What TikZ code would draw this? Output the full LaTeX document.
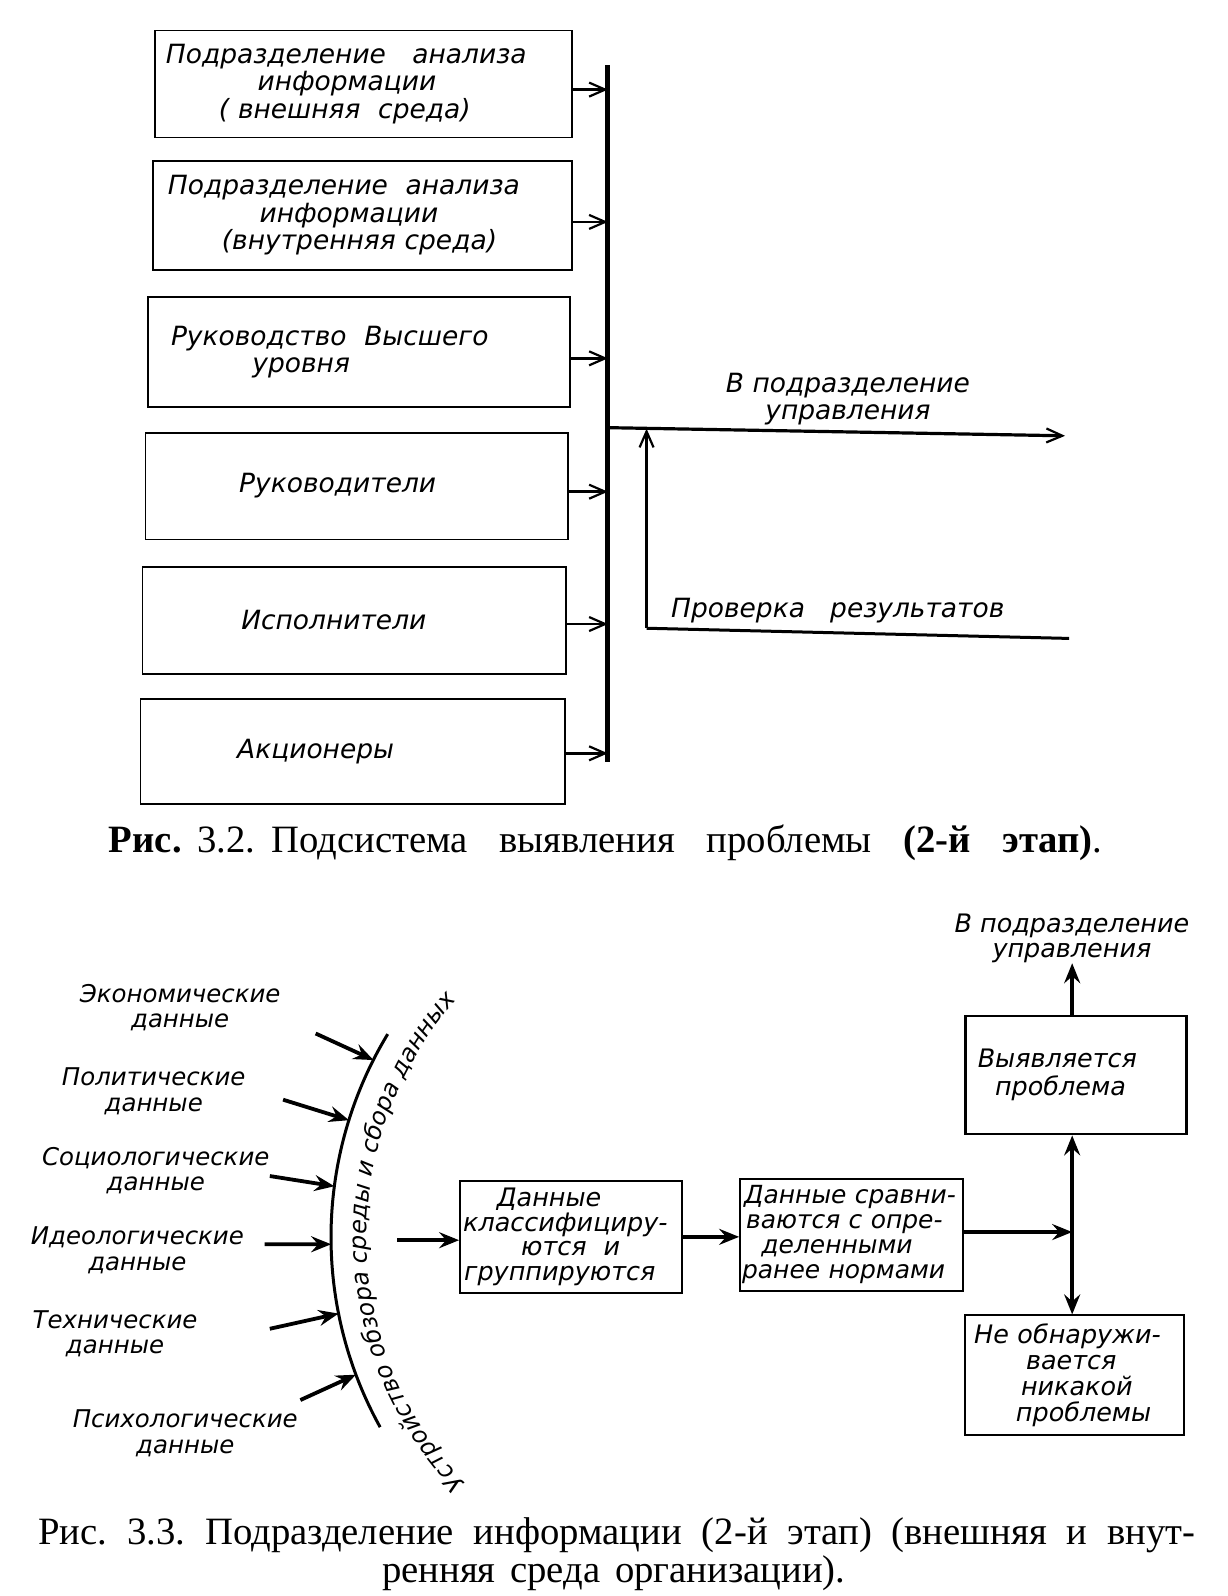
\documentclass[tikz,border=0pt]{standalone}
\usepackage{fontspec}
\setmainfont{Liberation Serif}
\newfontfamily\hand{DejaVu Sans}
\usetikzlibrary{arrows.meta,decorations.text,calc}
\frenchspacing
\tikzset{
  hw/.style={font=\hand\itshape\fontsize{26}{27}\selectfont, inner sep=0pt},
  hwl/.style={font=\hand\itshape\fontsize{24}{25}\selectfont, inner sep=0pt, align=center},
  box/.style={draw, line width=1.8pt, inner sep=0pt, align=left, font=\hand\itshape\fontsize{26}{27}\selectfont},
  boxb/.style={draw, line width=2.2pt, inner sep=0pt, align=left, font=\hand\itshape\fontsize{25}{24.5}\selectfont},
  capt/.style={font=\fontsize{38}{40}\selectfont, inner sep=0pt},
  tarr/.style={line width=2.6pt, -{Straight Barb[length=16pt,width=14pt,line width=2.2pt]}},
  barline/.style={line width=5pt},
  plainline/.style={line width=3pt},
  barr/.style={line width=3.8pt, -{Stealth[length=20pt,width=16pt,inset=7pt]}},
  barr2/.style={line width=4.2pt, {Stealth[length=20pt,width=16pt,inset=7pt]}-{Stealth[length=20pt,width=16pt,inset=7pt]}},
  arcline/.style={line width=3pt},
}
\begin{document}
\begin{tikzpicture}[x=1pt,y=-1pt,scale=1.018,transform shape]
\fill[white] (0,0) rectangle (1206.3,1567.8);
\useasboundingbox (0,0) rectangle (1206.3,1567.8);

% ---------- Fig. 3.2 ----------
\node[box, text width=410pt, minimum height=105pt] (b1) at (357,82.5)
  {\hspace*{11pt}Подразделение\quad анализа\\\hspace*{101pt}информации\\\hspace*{63pt}( внешняя\ \ среда)};
\node[box, text width=412pt, minimum height=107pt] (b2) at (356,211.5)
  {\hspace*{15pt}Подразделение\ \ анализа\\\hspace*{105pt}информации\\\hspace*{68pt}(внутренняя\ среда)};
\node[box, text width=415pt, minimum height=108pt] (b3) at (352.5,346)
  {\hspace*{23pt}Руководство\ \ Высшего\\\hspace*{103pt}уровня};
\node[box, text width=415pt, minimum height=105pt] (b4) at (350.5,477.5)
  {\hspace*{92pt}Руководители};
\node[box, text width=416pt, minimum height=105pt] (b5) at (348,609.5)
  {\hspace*{97pt}Исполнители};
\node[box, text width=417pt, minimum height=103pt] (b6) at (346.5,738.5)
  {\hspace*{95pt}Акционеры};

\coordinate (bartop) at (597,64);
\coordinate (barbot) at (597,748);
\draw[barline] (bartop) -- (barbot);

\draw[tarr] (b1.east |- 0,88)  -- (bartop |- 0,88);
\draw[tarr] (b2.east |- 0,218) -- (bartop |- 0,218);
\draw[tarr] (b3.east |- 0,352) -- (bartop |- 0,352);
\draw[tarr] (b4.east |- 0,483) -- (bartop |- 0,483);
\draw[tarr] (b5.east |- 0,613) -- (bartop |- 0,613);
\draw[tarr] (b6.east |- 0,740) -- (bartop |- 0,740);

\coordinate (outstart) at (597,420);
\coordinate (outend) at (1046,428);
\draw[tarr, line width=3.2pt] (outstart) -- (outend);
\node[hw, align=center] (lblout) at (833,392) {В подразделение\\управления};

\coordinate (fb) at (635,617);
\coordinate (fbtop) at (635,421);
\coordinate (fbend) at (1050,627);
\draw[tarr, line width=3.2pt] (fb) -- (fbtop);
\draw[plainline] (fb) -- (fbend);
\node[hw] (lblfb) at (823,600) {Проверка\ \ \ результатов};

\node[capt] (cap1) at (595,828)
  {\makebox[976pt][s]{\textbf{Рис.} 3.2. Подсистема\ \ выявления\ \ проблемы\ \ \textbf{(2-й\ \ этап)}.}};

% ---------- Fig. 3.3 ----------
\coordinate (ctr) at (710,1215);
\draw[arcline] ($(ctr)+(211.2:385)$) arc (211.2:151:385);
\path[decorate, decoration={text along path, text align=center,
   text={|\hand\itshape\fontsize{24}{24}\selectfont|Устройство обзора среды и сбора данных}}]
   ($(ctr)+(132:350)$) arc (132:226:350);

\node[hwl] (l1) at (177,990)  {Экономические\\данные};
\node[hwl] (l2) at (151,1072) {Политические\\данные};
\node[hwl] (l3) at (153,1150) {Социологические\\данные};
\node[hwl] (l4) at (135,1228) {Идеологические\\данные};
\node[hwl] (l5) at (113,1310) {Технические\\данные};
\node[hwl] (l6) at (182,1408) {Психологические\\данные};

\coordinate (p1) at ($(ctr)+(206.9:385)$);
\coordinate (p2) at ($(ctr)+(197.4:385)$);
\coordinate (p3) at ($(ctr)+(187.5:385)$);
\coordinate (p4) at ($(ctr)+(179.0:385)$);
\coordinate (p5) at ($(ctr)+(168.8:385)$);
\coordinate (p6) at ($(ctr)+(159.5:385)$);
\coordinate (s1) at (310,1015);
\coordinate (s2) at (278,1080);
\coordinate (s3) at (265,1155);
\coordinate (s4) at (260,1222);
\coordinate (s5) at (265,1305);
\coordinate (s6) at (295,1375);
\draw[barr] (s1) -- (p1);
\draw[barr] (s2) -- (p2);
\draw[barr] (s3) -- (p3);
\draw[barr] (s4) -- (p4);
\draw[barr] (s5) -- (p5);
\draw[barr] (s6) -- (p6);

\node[boxb, text width=218pt, minimum height=110pt] (c1) at (561,1215)
  {\hspace*{36pt}Данные\\\hspace*{3pt}классифициру-\\\hspace*{60pt}ются\ \ и\\\hspace*{4pt}группируются};
\node[boxb, text width=219pt, minimum height=110pt, font=\hand\itshape\fontsize{24.5}{24.5}\selectfont] (c2) at (836.5,1213)
  {\hspace*{4pt}Данные сравни-\\\hspace*{6pt}ваются с опре-\\\hspace*{21pt}деленными\\\hspace*{2pt}ранее нормами};
\node[boxb, text width=217pt, minimum height=116pt, font=\hand\itshape\fontsize{25}{28}\selectfont] (c3) at (1057,1056)
  {\hspace*{12pt}Выявляется\\\hspace*{29pt}проблема};
\node[boxb, text width=215pt, minimum height=118pt, font=\hand\itshape\fontsize{25}{25.5}\selectfont] (c4) at (1055.5,1351)
  {\hspace*{9pt}Не обнаружи-\\\hspace*{60pt}вается\\\hspace*{55pt}никакой\\\hspace*{50pt}проблемы};

\coordinate (in) at (390,1218);
\draw[barr] (in) -- (in -| c1.west);
\draw[barr] (c1.east |- 0,1215) -- (c2.west |- 0,1215);
\coordinate (jn) at (1053,1210);
\draw[barr] (c2.east |- jn) -- (jn);
\draw[barr2] (c3.south -| jn) -- (c4.north -| jn);
\coordinate (up) at (1053,946);
\draw[barr] (c3.north -| up) -- (up);
\node[hwl, font=\hand\itshape\fontsize{25}{25}\selectfont] (lblup) at (1053,922) {В подразделение\\управления};

\node[capt] (cap2a) at (606,1508)
  {\makebox[1137pt][s]{Рис. 3.3. Подразделение информации (2-й этап) (внешняя и внут-}};
\node[capt] (cap2b) at (603,1545)
  {\makebox[455pt][s]{ренняя среда организации).}};
\end{tikzpicture}
\end{document}
